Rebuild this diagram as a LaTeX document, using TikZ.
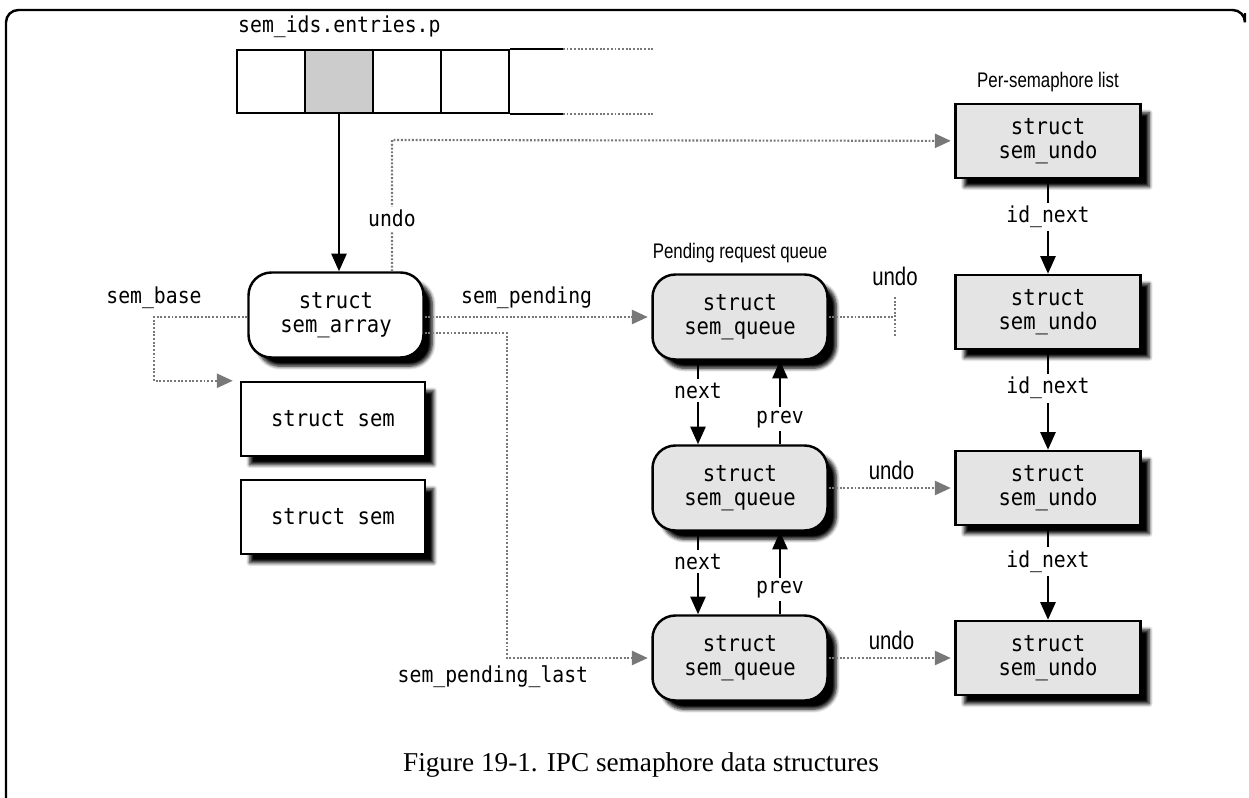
\documentclass[tikz,border=0pt]{standalone}
\usepackage{fontspec}
\setmainfont{Liberation Serif}
\newfontfamily\codefont[FakeStretch=0.9]{DejaVu Sans Mono}
\newfontfamily\notefont[FakeStretch=0.8]{Liberation Sans}
\usetikzlibrary{arrows.meta,positioning,calc,shadows.blur}
\definecolor{ptrgray}{RGB}{120,120,120}
\definecolor{boxgray}{RGB}{228,228,228}
\definecolor{cellgray}{RGB}{204,204,204}

\begin{document}
\begin{tikzpicture}[x=0.02cm, y=-0.02cm,
    every node/.style={inner sep=1pt},
    codelbl/.style={text=black, font=\codefont\fontsize{12.5}{13}\selectfont},
    notelbl/.style={text=black, font=\notefont\fontsize{12}{13}\selectfont},
    undolbl/.style={text=black, font=\notefont\fontsize{14.5}{15}\selectfont},
    onlink/.style={codelbl, fill=white, inner sep=2pt},
    structbox/.style={draw, line width=1.4pt, align=center, font=\codefont\fontsize{13}{13.5}\selectfont,
        blur shadow={shadow xshift=5pt, shadow yshift=-5pt, shadow blur steps=6, shadow blur radius=2pt, shadow opacity=100}},
    plainbox/.style={structbox, fill=white, minimum width=3.68cm, minimum height=1.48cm},
    roundbox/.style={structbox, rounded corners=13pt, minimum width=3.5cm, minimum height=1.7cm},
    undobox/.style={structbox, fill=boxgray, minimum width=3.7cm, minimum height=1.48cm},
    cell/.style={draw, line width=1pt, minimum width=1.36cm, minimum height=1.26cm, inner sep=0pt},
    link/.style={line width=1.5pt, -{Triangle[length=10pt,width=8.5pt]}},
    ptrline/.style={ptrgray, line width=1.2pt, dash pattern=on 1.1pt off 1pt},
    ptr/.style={ptrline, shorten >=2pt, -{Triangle[length=9pt,width=8pt]}}
]
    \useasboundingbox (0,0) rectangle (1249,798);

    % Page frame
    \draw[line width=1.4pt, rounded corners=7pt] (6,805) -- (6,10) -- (1245,10) -- (1245,13);

    % sem_ids.entries.p array
    \node[cell] (cell0) at (271,81.5) {};
    \node[cell, fill=cellgray] (cell1) at (339,81.5) {};
    \node[cell] (cell2) at (407,81.5) {};
    \node[cell] (cell3) at (475,81.5) {};
    \draw[line width=1pt] (cell3.north east) -- ++(53,0) coordinate (topend);
    \draw[line width=1pt] (cell3.south east) -- ++(53,0) coordinate (botend);
    \draw[ptrline] (topend) -- ++(91,0);
    \draw[ptrline] (botend) -- ++(91,0);
    \node[codelbl, anchor=south west] (idslbl) at ($(cell0.north west)+(0,-9)$) {sem\_ids.entries.p};

    % Semaphore set
    \node[roundbox, fill=white] (semarray) at (336,315) {struct\\sem\_array};
    \node[plainbox] (sem0) at (333,419) {struct sem};
    \node[plainbox] (sem1) at (333,517) {struct sem};

    % Pending request queue
    \node[roundbox, fill=boxgray] (queue0) at (740,317) {struct\\sem\_queue};
    \node[roundbox, fill=boxgray] (queue1) at (740,488) {struct\\sem\_queue};
    \node[roundbox, fill=boxgray] (queue2) at (740,658) {struct\\sem\_queue};
    \node[notelbl, above=5pt of queue0] (queuelbl) {Pending request queue};

    % Per-semaphore undo list
    \node[undobox] (undo0) at (1048,141) {struct\\sem\_undo};
    \node[undobox] (undo1) at (1048,312) {struct\\sem\_undo};
    \node[undobox] (undo2) at (1048,488) {struct\\sem\_undo};
    \node[undobox] (undo3) at (1048,658) {struct\\sem\_undo};
    \node[notelbl, above=5pt of undo0] (undolistlbl) {Per-semaphore list};

    % Entry to sem_array
    \draw[link] (cell1.south) -- (cell1.south |- semarray.north);

    % Pointers out of sem_array
    \coordinate (undoknee) at (392,140);
    \draw[ptr] (undoknee |- semarray.north) -- node[onlink, pos=0.4] (undolbl) {undo} (undoknee) -- (undo0);
    \coordinate (baseknee) at (154,317);
    \draw[ptr, shorten >=4pt] (semarray.west |- baseknee) -- node[codelbl, pos=1, above=3pt] (baselbl) {sem\_base} (baseknee) |- (sem0.north west);
    \draw[ptr] (semarray.east |- queue0) -- node[codelbl, pos=0.45, above=3pt] (pendlbl) {sem\_pending} (queue0);
    \coordinate (lastknee) at (507,658);
    \draw[ptr] ($(semarray.east)+(0,18)$) -| (lastknee) node[codelbl, below=3pt, xshift=-8pt] (lastlbl) {sem\_pending\_last} -- (queue2);

    % Queue links
    \draw[link] ($(queue0.south)+(-42,0)$) -- node[onlink, pos=0.36] (nextlbl0) {next} ($(queue1.north)+(-42,0)$);
    \draw[link] ($(queue1.north)+(40,0)$) -- node[onlink, pos=0.3] (prevlbl0) {prev} ($(queue0.south)+(40,0)$);
    \draw[link] ($(queue1.south)+(-42,0)$) -- node[onlink, pos=0.36] (nextlbl1) {next} ($(queue2.north)+(-42,0)$);
    \draw[link] ($(queue2.north)+(40,0)$) -- node[onlink, pos=0.3] (prevlbl1) {prev} ($(queue1.south)+(40,0)$);

    % Queue undo pointers
    \coordinate (undostub) at (895,317);
    \draw[ptrline] (queue0) -- (undostub);
    \draw[ptrline] ($(undostub)+(0,-20)$) -- node[undolbl, pos=0, above=5pt] (undolbl0) {undo} ($(undostub)+(0,20)$);
    \draw[ptr] (queue1) -- node[undolbl, above=3pt] (undolbl1) {undo} (undo2);
    \draw[ptr] (queue2) -- node[undolbl, above=3pt] (undolbl2) {undo} (undo3);

    % id_next links
    \draw[link] (undo0) -- node[onlink, pos=0.4] (idlbl0) {id\_next} (undo1);
    \draw[link] (undo1) -- node[onlink, pos=0.38] (idlbl1) {id\_next} (undo2);
    \draw[link] (undo2) -- node[onlink, pos=0.38] (idlbl2) {id\_next} (undo3);

    % Caption
    \node[font=\fontsize{15.5}{18}\selectfont] (caption) at (641,765) {Figure 19-1. IPC semaphore data structures};
\end{tikzpicture}
\end{document}
